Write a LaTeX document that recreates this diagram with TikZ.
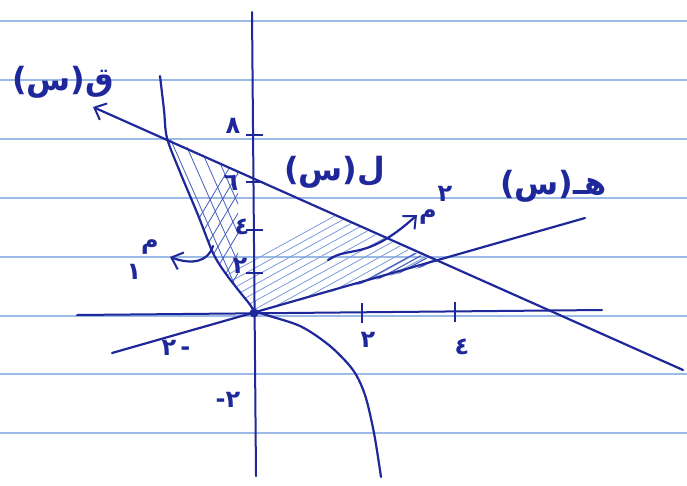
\documentclass[tikz,border=0pt]{standalone}
\usepackage{fontspec}
\newfontfamily\arabicfont[Script=Arabic]{DejaVu Sans}
\newfontfamily\parenfont{DejaVu Sans}
\usetikzlibrary{arrows.meta}
\definecolor{ink}{RGB}{30,40,155}
\definecolor{paperline}{RGB}{155,186,230}
\definecolor{hatchc}{RGB}{125,155,218}
\definecolor{hatchd}{RGB}{70,95,190}
\tikzset{
  paper/.style={paperline, line width=1.1pt},
  pen/.style={ink, line width=2.2pt, line cap=round, line join=round},
  axis/.style={ink, line width=2pt, line cap=round},
  tick/.style={ink, line width=2pt},
  hatch/.style={hatchc, line width=0.8pt},
  hatchdark/.style={hatchd, line width=1.1pt},
  lbl/.style={ink, inner sep=0pt, font=\arabicfont\bfseries\fontsize{24}{24}\selectfont},
  biglbl/.style={ink, inner sep=0pt, font=\arabicfont\bfseries\fontsize{32}{32}\selectfont},
  barb/.style={-{Straight Barb[length=10pt,width=18pt,line width=2pt]}}
}
\begin{document}
\begin{tikzpicture}[x=1pt,y=-1pt]
\useasboundingbox (0,0) rectangle (687,485);
\fill[white] (0,0) rectangle (687,485);
% ruled paper
\foreach \y in {21,80,139,198,257,316,374,433}
  \draw[paper] (0,\y) -- (687,\y);

% shaded region
\begin{scope}
\clip plot[smooth] coordinates {(254,313) (249,303) (226,274) (213,253) (198,215) (180,172) (167,138)} -- (437,263) -- cycle;
\foreach \i in {0,...,30}
  \draw[hatch] (100+\i*15,345) -- ++(260,-143);
\begin{scope}
\clip (150,120) rectangle (238,300);
\foreach \i in {0,...,10}
  \draw[hatch, hatchd] (110+\i*13,120) -- ++(75,170);
\foreach \i in {0,...,10}
  \draw[hatch, hatchd] (150+\i*12,300) -- ++(90,-150);
\end{scope}
\foreach \i in {0,...,7}
  \draw[hatchdark] (330+\i*10,300) -- ++(95,-52);
\end{scope}

% axes
\draw[axis] (77,315) -- (602,310);
\draw[axis] (252,12) -- (256,476);
\foreach \y in {135,182,230,273}
  \draw[tick] (246,\y) -- (263,\y);
\draw[tick] (362,303) -- (362,323);
\draw[tick] (455,302) -- (455,322);
\fill[ink] (254,313) circle (4.5pt);

% curve q
\draw[pen] plot[smooth] coordinates {(160,76) (164,110) (167,138) (180,172) (198,215) (213,253) (226,274) (248,302) (258,312) (300,326) (330,346) (353,370) (365,395) (374,433) (381,477)};
% line l
\coordinate (lstart) at (683,370);
\coordinate (ltip) at (93,107);
\draw[pen, barb] (lstart) -- (ltip);
% line h
\coordinate (hleft) at (112,353);
\coordinate (hright) at (585,218);
\draw[pen] (hleft) -- (hright);

% arrows m1, m2
\coordinate (m1s) at (213,246);
\coordinate (m1t) at (170,257);
\draw[pen, barb] (m1s) .. controls (208,262) and (192,265) .. (m1t);
\coordinate (m2s) at (328,260);
\coordinate (m2t) at (417,215);
\draw[pen, barb] (m2s) .. controls (350,245) and (365,262) .. (m2t);

% labels
\node[biglbl, anchor=west] (qlab) at (12,82) {{\parenfont\bfseries(}س{\parenfont\bfseries)}ق};
\node[biglbl, anchor=west] (llab) at (284,172) {{\parenfont\bfseries(}س{\parenfont\bfseries)}ل};
\node[biglbl, anchor=west] (hlab) at (500,186) {{\parenfont\bfseries(}س{\parenfont\bfseries)}هـ};

\node[lbl] (y8) at (233,126) {٨};
\node[lbl] (y6) at (231,183) {٦};
\node[lbl] (y4) at (242,227) {٤};
\node[lbl] (y2) at (240,266) {٢};
\node[lbl] (x2) at (368,340) {٢};
\node[lbl] (x4) at (462,347) {٤};
\node[lbl] (xm2) at (176,348) {٢\,-};
\node[lbl] (ym2) at (228,400) {٢-};

\node[lbl] (m1a) at (150,247) {م};
\node[lbl] (m1b) at (134,272) {١};
\node[lbl] (m2a) at (428,217) {م};
\node[lbl] (m2b) at (445,194) {٢};
\end{tikzpicture}
\end{document}
